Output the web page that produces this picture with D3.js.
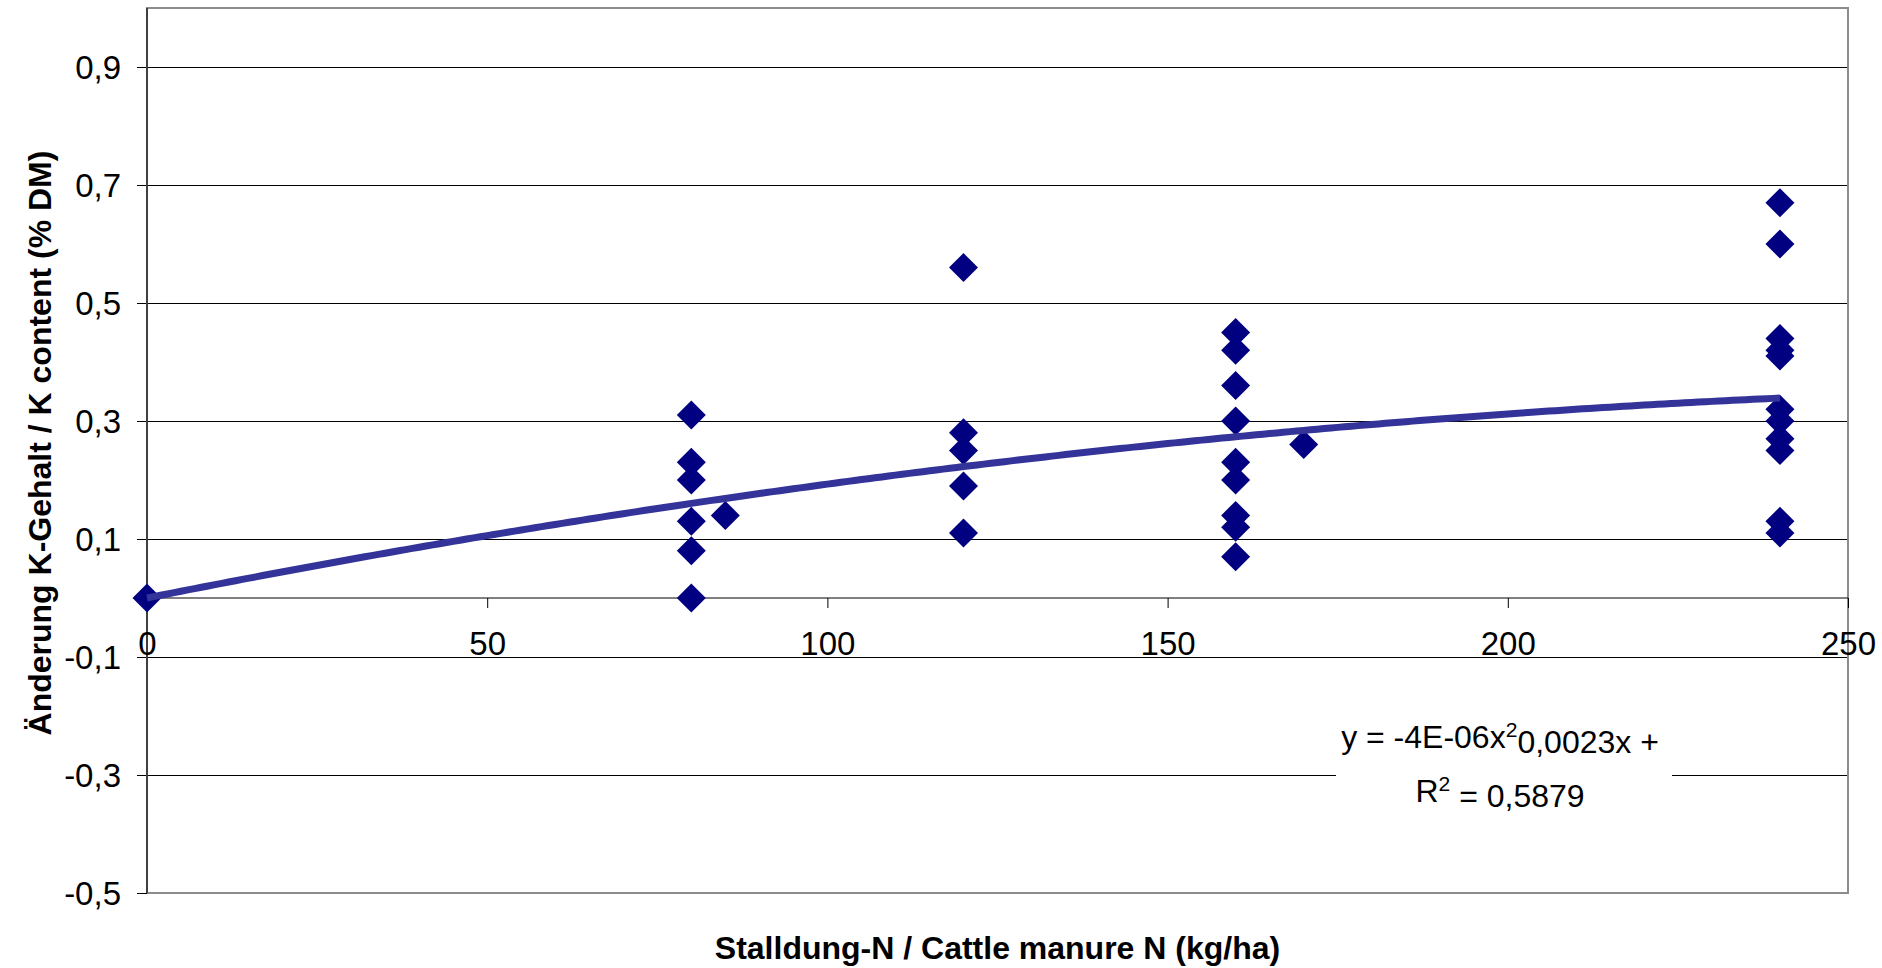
<!DOCTYPE html>
<html>
<head>
<meta charset="utf-8">
<script src="https://cdn.jsdelivr.net/npm/d3@7"></script>
<style>
  body { margin: 0; background: #fff; }
  text { font-family: "Liberation Sans", Arial, sans-serif; fill: #000; }
  .tick text { font-size: 33px; }
  .axis-title { font-size: 32px; font-weight: bold; }
  .eq { font-size: 32px; }
</style>
</head>
<body>
<div class="chart"></div>
<script>
// measured values: x = cattle manure N (kg/ha), y = change of K content (% DM)
var manureN = [0, 80, 80, 80, 80, 80, 80, 85, 120, 120, 120, 120, 120,
    160, 160, 160, 160, 160, 160, 160, 160, 160, 170,
    240, 240, 240, 240, 240, 240, 240, 240, 240, 240, 240];
var kChange = [0, 0.31, 0.23, 0.20, 0.13, 0.08, 0.00, 0.14, 0.56, 0.28, 0.25, 0.19, 0.11,
    0.45, 0.42, 0.36, 0.30, 0.23, 0.20, 0.14, 0.12, 0.07, 0.26,
    0.67, 0.60, 0.44, 0.42, 0.41, 0.32, 0.30, 0.27, 0.25, 0.13, 0.11];

var xTicks = [0, 50, 100, 150, 200, 250];
var yTicks = [0.9, 0.7, 0.5, 0.3, 0.1, -0.1, -0.3, -0.5];

// polynomial trendline (order 2): a*x^2 + b*x + c
var trendCoef = [-3.7e-6, 0.0023, 0];
var trendRange = [0, 240];

var W = 1882, H = 968;
var margin = {top: 8, right: 34, bottom: 75, left: 147};
var width = W - margin.left - margin.right;
var height = H - margin.top - margin.bottom;

var svg = d3.select('.chart').
append('svg').
attr('width', W).
attr('height', H).
append('g').
attr('transform', 'translate(' + margin.left + ',' + margin.top + ')');

var x = d3.scaleLinear().domain([0, 250]).range([0, width]);
var y = d3.scaleLinear().domain([-0.5, 1.0]).range([height, 0]);

// excel style: comma decimal, plain hyphen minus
var fmt = function(d) { return d3.format('.1f')(d).replace('.', ',').replace('\u2212', '-'); };

// gridlines
svg.append('g').
attr('class', 'grid').
call(d3.axisLeft(y).tickValues(yTicks).tickSize(-width).tickFormat('')).
call(function(g) {
    g.select('.domain').remove();
    g.selectAll('line').attr('stroke', '#000').attr('stroke-width', 1);
});

// plot frame
svg.append('rect').
attr('width', width).
attr('height', height).
attr('fill', 'none').
attr('stroke', '#8c8c8c').
attr('stroke-width', 2);

// y axis
svg.append('g').
attr('class', 'y axis').
call(d3.axisLeft(y).tickValues(yTicks).tickSize(10).tickPadding(16).tickFormat(fmt)).
call(function(g) {
    g.select('.domain').remove();
    g.selectAll('line').attr('stroke', '#000');
    g.selectAll('text').attr('dy', '0.36em');
});

svg.append('line').
attr('x1', 0).attr('x2', 0).
attr('y1', 0).attr('y2', height).
attr('stroke', '#404040').
attr('stroke-width', 2);

// x axis crossing at y = 0
var xAxis = svg.append('g').
attr('class', 'x axis').
attr('transform', 'translate(0,' + y(0) + ')').
call(d3.axisBottom(x).tickValues(xTicks).tickSize(10).tickFormat(d3.format('d')));

xAxis.select('.domain').remove();
xAxis.selectAll('line').attr('stroke', '#000');
xAxis.selectAll('text').attr('y', 57).attr('dy', 0);

xAxis.append('line').
attr('x1', 0).attr('x2', width).
attr('stroke', '#000').
attr('stroke-width', 1);

// data points
var points = manureN.map(function(d, i) { return {x: d, y: kChange[i]}; });
var r = 14.5;
svg.selectAll('.pt').
data(points).
enter().append('path').
attr('class', 'pt').
attr('d', 'M0,' + (-r) + 'L' + r + ',0L0,' + r + 'L' + (-r) + ',0Z').
attr('transform', function(d) { return 'translate(' + x(d.x) + ',' + y(d.y) + ')'; }).
attr('fill', '#000080');

// trendline
var trend = function(v) { return trendCoef[0] * v * v + trendCoef[1] * v + trendCoef[2]; };
var line = d3.line().
x(function(d) { return x(d); }).
y(function(d) { return y(trend(d)); });

svg.append('path').
datum(d3.range(trendRange[0], trendRange[1] + 0.5, 1)).
attr('d', line).
attr('fill', 'none').
attr('stroke', '#333399').
attr('stroke-width', 7);

// equation label
var eq = svg.append('g').
attr('transform', 'translate(' + (1500 - margin.left) + ',' + (748 - margin.top) + ')');

eq.append('rect').
attr('x', -164).
attr('y', -44).
attr('width', 336).
attr('height', 128).
attr('fill', '#fff');

var t1 = eq.append('text').attr('class', 'eq').attr('text-anchor', 'middle');
t1.append('tspan').text('y = -4E-06x');
t1.append('tspan').attr('dy', '-0.5em').attr('font-size', '0.66em').text('2');
t1.append('tspan').attr('dy', '0.5em').text('0,0023x +');

var t2 = eq.append('text').attr('class', 'eq').attr('text-anchor', 'middle').attr('y', 54);
t2.append('tspan').text('R');
t2.append('tspan').attr('dy', '-0.5em').attr('font-size', '0.66em').text('2');
t2.append('tspan').attr('dy', '0.5em').text(' = 0,5879');

// axis titles
svg.append('text').
attr('class', 'axis-title').
attr('x', width / 2).
attr('y', 959 - margin.top).
attr('text-anchor', 'middle').
text('Stalldung-N / Cattle manure N (kg/ha)');

svg.append('text').
attr('class', 'axis-title').
attr('transform', 'translate(' + (51 - margin.left) + ',' + (443 - margin.top) + ') rotate(-90)').
attr('text-anchor', 'middle').
text('Änderung K-Gehalt / K content (% DM)');
</script>
</body>
</html>
